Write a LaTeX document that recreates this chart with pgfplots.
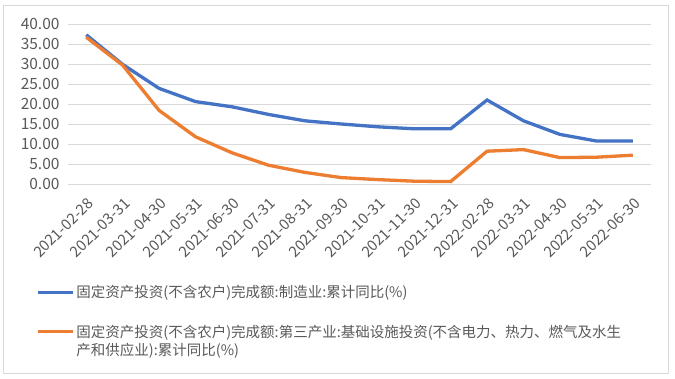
\documentclass[border=0pt]{standalone}
\usepackage{pgfplots}
\pgfplotsset{compat=1.18}
\usepackage{fontspec}
\setmainfont{Noto Sans CJK SC}
\definecolor{sblue}{HTML}{4472C4}
\definecolor{sorange}{HTML}{ED7D31}
\definecolor{gridgray}{HTML}{D9D9D9}
\definecolor{txt}{HTML}{595959}
\begin{document}
\begin{tikzpicture}[x=1bp,y=1bp]
\path (0,0) rectangle (675,378);
\draw[gridgray, line width=0.75bp] (3.5,5) rectangle (668.5,373);
\begin{axis}[
  at={(68bp,194bp)}, anchor=south west,
  scale only axis, width=583bp, height=160bp,
  xmin=-0.5, xmax=15.5, ymin=0, ymax=40,
  ytick={0,5,...,40}, xtick={0,...,15},
  xticklabels={2021-02-28,2021-03-31,2021-04-30,2021-05-31,2021-06-30,2021-07-31,2021-08-31,2021-09-30,2021-10-31,2021-11-30,2021-12-31,2022-02-28,2022-03-31,2022-04-30,2022-05-31,2022-06-30},
  ymajorgrids, grid style={gridgray, line width=0.75bp},
  axis line style={draw=none}, major tick length=0pt,
  /pgf/number format/assume math mode=true,
  tick label style={text=txt},
  yticklabel style={font=\fontsize{15.5bp}{18bp}\selectfont, xshift=-5bp, /pgf/number format/.cd, fixed, fixed zerofill, precision=2},
  xticklabel style={font=\fontsize{15bp}{18bp}\selectfont, anchor=east, xshift=7bp, yshift=-14bp, rotate=45},
  legend cell align=left,
  legend style={at={(axis description cs:-0.055,-0.62)}, anchor=north west, draw=none, fill=none, inner sep=0pt,
    font=\fontsize{14.5bp}{18bp}\selectfont, text=txt, row sep=22bp, nodes={align=left}},
  legend image code/.code={\draw[#1, line width=3.3bp] (0bp,0bp) -- (35bp,0bp);},
]
\addplot[sblue, line width=3.3bp] coordinates {
(0,37.3) (1,29.9) (2,23.9) (3,20.6) (4,19.3) (5,17.4) (6,15.8) (7,15.0) (8,14.3) (9,13.8) (10,13.8) (11,21.0) (12,15.8) (13,12.4) (14,10.75) (15,10.75)};
\addlegendentry{固定资产投资(不含农户)完成额:制造业:累计同比(\%)}
\addplot[sorange, line width=3.3bp, legend image post style={yshift=9.5bp}] coordinates {
(0,36.7) (1,29.7) (2,18.4) (3,11.8) (4,7.8) (5,4.7) (6,2.9) (7,1.6) (8,1.1) (9,0.7) (10,0.6) (11,8.2) (12,8.6) (13,6.6) (14,6.7) (15,7.2)};
\addlegendentry{固定资产投资(不含农户)完成额:第三产业:基础设施投资(不含电力、热力、燃气及水生\\产和供应业):累计同比(\%)}
\end{axis}
\end{tikzpicture}
\end{document}
